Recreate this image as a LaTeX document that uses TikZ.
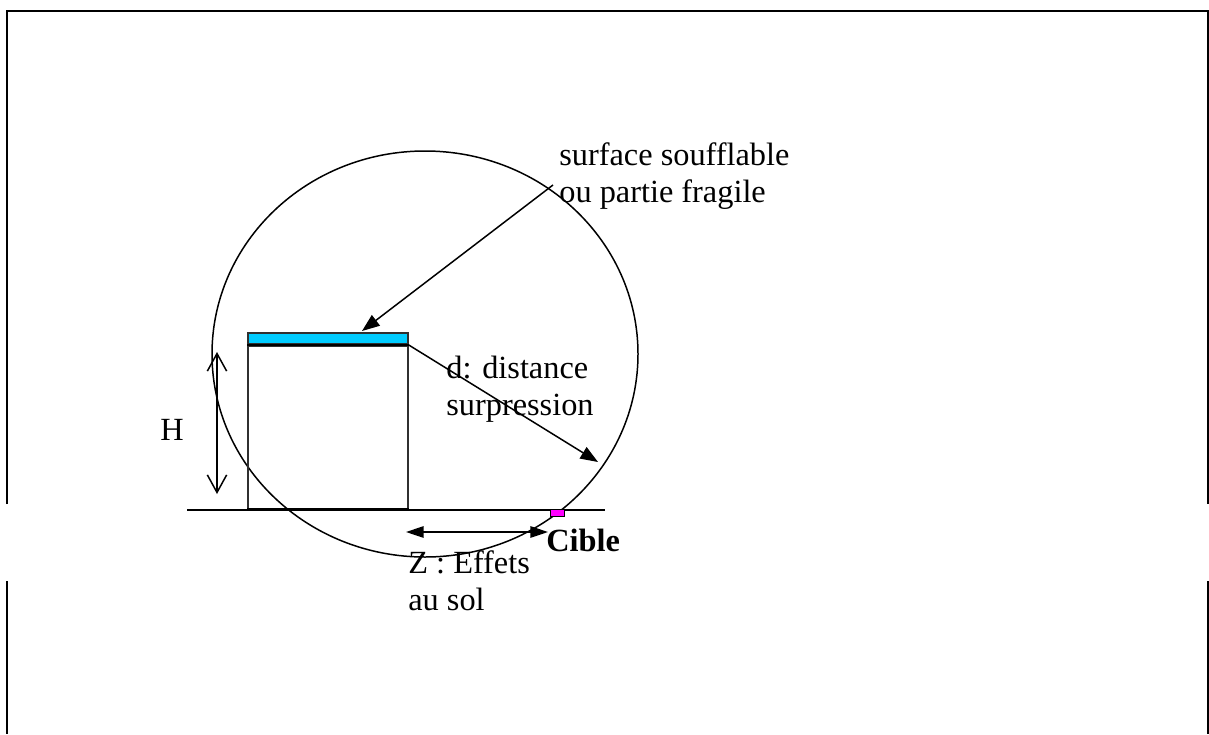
\documentclass[tikz,border=0pt]{standalone}
\usepackage{fontspec}
\setmainfont{Liberation Serif}
\usetikzlibrary{arrows.meta}
\definecolor{roof}{HTML}{00CCFF}
\definecolor{target}{HTML}{FF00FF}
\definecolor{edge}{HTML}{303030}

\begin{document}
\begin{tikzpicture}[x=0.02cm, y=-0.02cm, font=\fontsize{18.4}{21}\selectfont,
  frame/.style={line width=1.15pt},
  thin/.style={line width=0.85pt},
  label/.style={inner sep=0pt, align=left, anchor=west},
  pointer/.style={thin, -{Triangle[length=10pt, width=7.5pt]}},
  span/.style={thin, {Triangle[length=10pt, width=6.5pt]}-{Triangle[length=10pt, width=6.5pt]}},
  height/.style={thin, {Straight Barb[length=10pt, width=11pt]}-{Straight Barb[length=10pt, width=11pt]}}]
\useasboundingbox (0,0) rectangle (1209,734);
% ---------------- frame (open at the sides)
\draw[frame] (7,504) -- (7,11) -- (1208,11) -- (1208,504);
\draw[frame] (7,581) -- (7,734);
\draw[frame] (1208,581) -- (1208,734);
% ---------------- circle of the overpressure distance
\draw[thin] (425,354) ellipse [x radius=213, y radius=203];
% ---------------- building, roof, ground, target
\node[draw=edge, line width=1pt, minimum width=160*0.02cm, minimum height=163*0.02cm, inner sep=0pt, anchor=north west] (box) at (247,345) {};
\draw[line width=1.6pt] (box.south west) -- (box.south east);
\node[draw=edge, fill=roof, line width=1pt, minimum width=160*0.02cm, minimum height=11*0.02cm, inner sep=0pt, anchor=south west] (bar) at (247,345) {};
\draw[line width=1.6pt] (bar.south west) -- (bar.south east);
\coordinate (g1) at (187,510);
\coordinate (g2) at (605,510);
\draw[thin] (g1) -- (g2);
\node[draw=black, fill=target, line width=0.6pt, minimum width=14*0.02cm, minimum height=7*0.02cm, inner sep=0pt, anchor=north west] (cible) at (550,509) {};
% ---------------- labels
\node[label] (surf) at (559,176) {surface soufflable\\ou partie fragile};
\node[label] (dist) at (446,389) {d: distance\\surpression};
\node[label] (zone) at (408,581) {Z : Effets\\au sol};
\node[label, font=\fontsize{18.4}{21}\selectfont\bfseries] (ciblelab) at (546,540) {Cible};
\node[inner sep=0pt] (hlab) at (172,430) {H};
% ---------------- arrows
\coordinate (s0) at (553,185);
\coordinate (s1) at (362,331);
\draw[pointer] (s0) -- (s1);
\coordinate (d1) at (598,462);
\draw[pointer] (bar.south east) -- (d1);
\coordinate (h0) at (217,352);
\coordinate (h1) at (217,494);
\draw[height] (h0) -- (h1);
\coordinate (z0) at (406,532);
\coordinate (z1) at (548,532);
\draw[span] (z0) -- (z1);
\end{tikzpicture}
\end{document}
